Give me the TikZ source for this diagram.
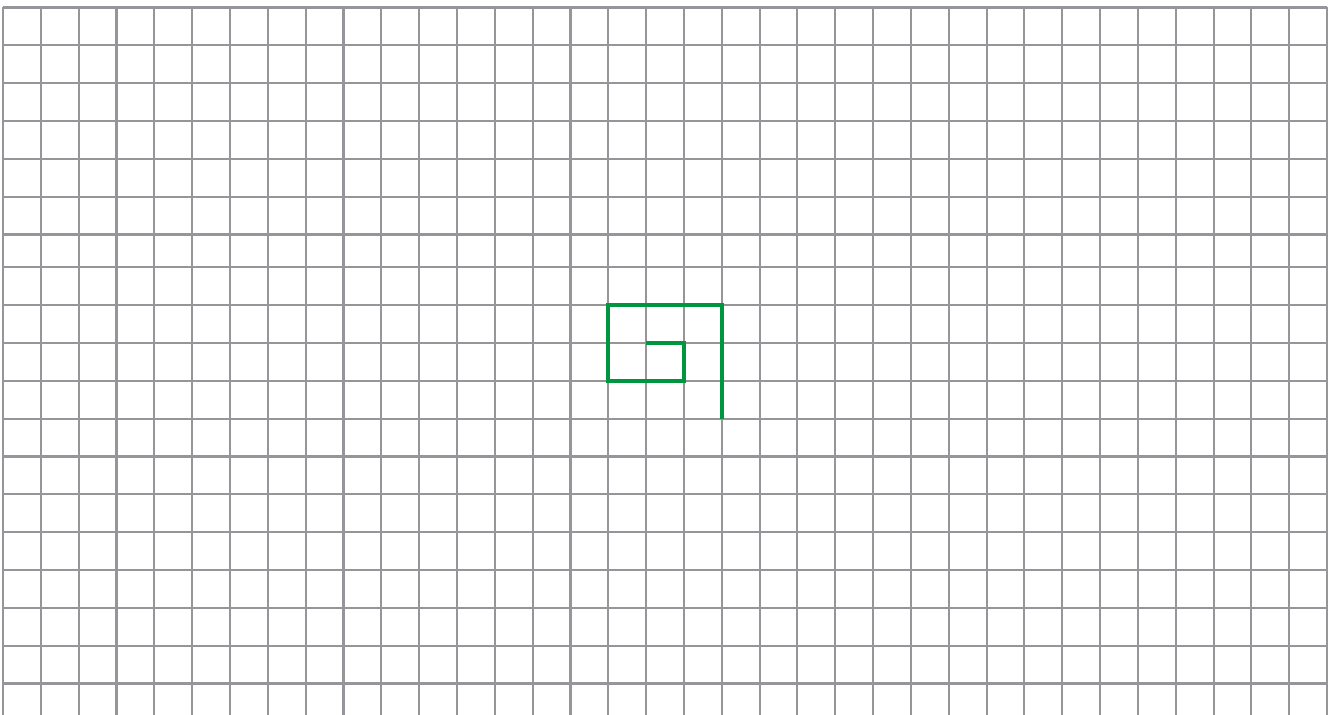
\documentclass[tikz,border=0pt]{standalone}
\usepackage{tikz}
\definecolor{gridgray}{RGB}{150,150,154}
\definecolor{trailgreen}{RGB}{0,150,64}
\begin{document}
\begin{tikzpicture}[
  gridline/.style={draw=gridgray, line width=1.6pt},
  trail/.style={draw=trailgreen, line width=3.2pt, line join=miter}
  ]
  \useasboundingbox (-0.079,0.198) rectangle (35.184,-18.702);
  % ========== grid ==========
  \foreach \i in {0,...,35}
    \draw[gridline] (\i,0) -- (\i,-18.702);
  \foreach \j in {0,...,6}
    \draw[gridline] (0,-\j) -- (35,-\j);
  % row 7 is a little shorter
  \foreach \j in {7,...,18}
    \draw[gridline] (0,{0.132-\j}) -- (35,{0.132-\j});
  % ========== spiral ==========
  \coordinate (S0) at (17,-8.868);
  \coordinate (S1) at (18,-8.868);
  \coordinate (S2) at (18,-9.868);
  \coordinate (S3) at (16,-9.868);
  \coordinate (S4) at (16,-7.868);
  \coordinate (S5) at (19,-7.868);
  \coordinate (S6) at (19,-10.868);
  \draw[trail] (S0) -- (S1) -- (S2) -- (S3) -- (S4) -- (S5) -- (S6);
\end{tikzpicture}
\end{document}
